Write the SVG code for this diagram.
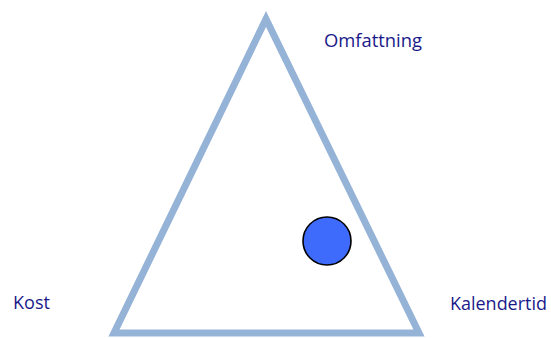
<svg xmlns="http://www.w3.org/2000/svg" width="551" height="338" viewBox="0 0 551 338">
<style>
.lbl{font-family:"Open Sans","Liberation Sans",sans-serif;font-size:18px;fill:#1a1a8a}
</style>
<rect width="551" height="338" fill="#ffffff"/>
<g id="triangle">
<polygon points="266,19 114,333 419,333" fill="none" stroke="#95b3d7" stroke-width="7" stroke-linejoin="miter" stroke-miterlimit="10"/>
</g>
<g id="dot">
<circle cx="327" cy="241" r="24" fill="#3f6bfd" stroke="#000000" stroke-width="1.6"/>
</g>
<g id="connectors"></g>
<g id="label-omfattning"><text class="lbl" x="324" y="47" textLength="98" lengthAdjust="spacingAndGlyphs">Omfattning</text></g>
<g id="label-kost"><text class="lbl" x="13" y="309" textLength="37" lengthAdjust="spacingAndGlyphs">Kost</text></g>
<g id="label-kalendertid"><text class="lbl" x="450" y="310" textLength="97" lengthAdjust="spacingAndGlyphs">Kalendertid</text></g>
</svg>
